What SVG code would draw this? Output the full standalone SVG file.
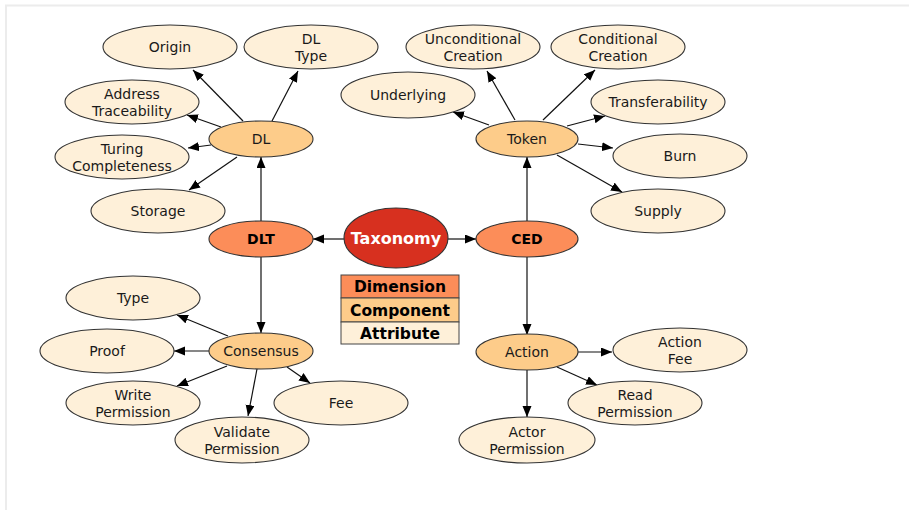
<svg xmlns="http://www.w3.org/2000/svg" width="909" height="510" viewBox="0 0 909 510">
<defs>
<marker id="ah" markerUnits="userSpaceOnUse" markerWidth="12" markerHeight="10" refX="11" refY="4.5" orient="auto">
<path d="M0,0 L11,4.5 L0,9 z" fill="#000"/>
</marker>
<style>
.e line{stroke:#111;stroke-width:1.2;marker-end:url(#ah)}
ellipse{stroke:#333;stroke-width:1.1}
.attr ellipse{fill:#fef0d9}
.comp ellipse{fill:#fdcc8a}
.dim ellipse{fill:#fc8d59}
text{font-family:"DejaVu Sans","Liberation Sans",sans-serif;font-size:14px;text-anchor:middle;fill:#1a1a1a}
.b{font-weight:bold;fill:#000}
.w{font-weight:bold;fill:#fff;font-size:16px}
.lg{font-weight:bold;fill:#000;font-size:15.5px}
</style>
</defs>
<rect width="909" height="510" fill="#fff"/>
<line x1="5" y1="5.5" x2="909" y2="5.5" stroke="#ececec" stroke-width="2"/>
<line x1="6" y1="5" x2="6" y2="510" stroke="#ececec" stroke-width="2"/>
<g class="e" id="connectors">
<line x1="344" y1="239" x2="313" y2="239"/>
<line x1="448" y1="239" x2="476" y2="239"/>
<line x1="261" y1="221" x2="261" y2="157"/>
<line x1="527" y1="221" x2="527" y2="157"/>
<line x1="261" y1="257" x2="261" y2="333"/>
<line x1="527" y1="257" x2="527" y2="335"/>
<line x1="243" y1="121" x2="193" y2="70"/>
<line x1="272" y1="121" x2="298" y2="71"/>
<line x1="221" y1="127" x2="187" y2="115"/>
<line x1="211" y1="145" x2="188" y2="148"/>
<line x1="237" y1="157" x2="189" y2="190"/>
<line x1="489" y1="125" x2="453" y2="112"/>
<line x1="515" y1="120" x2="487" y2="71"/>
<line x1="543" y1="120" x2="595" y2="70"/>
<line x1="567" y1="126" x2="605" y2="116"/>
<line x1="578" y1="144" x2="613" y2="148"/>
<line x1="557" y1="155" x2="622" y2="192"/>
<line x1="228" y1="336" x2="177" y2="315"/>
<line x1="209" y1="351" x2="174" y2="351"/>
<line x1="227" y1="366" x2="177" y2="386"/>
<line x1="257" y1="369" x2="248" y2="416"/>
<line x1="287" y1="367" x2="310" y2="383"/>
<line x1="578" y1="352" x2="612" y2="352"/>
<line x1="557" y1="367" x2="597" y2="385"/>
<line x1="527" y1="370" x2="527" y2="417"/>
</g>
<g id="taxonomy"><ellipse cx="396" cy="238" rx="52" ry="30" fill="#d7301f"/><text class="w" x="396" y="244">Taxonomy</text></g>
<g id="dlt" class="dim"><ellipse cx="261" cy="239" rx="52" ry="18"/><text class="b" x="261" y="244">DLT</text></g>
<g id="ced" class="dim"><ellipse cx="527" cy="239" rx="51" ry="18"/><text class="b" x="527" y="244">CED</text></g>
<g id="dl" class="comp"><ellipse cx="261" cy="139" rx="52" ry="18"/><text x="261" y="144">DL</text></g>
<g id="token" class="comp"><ellipse cx="527" cy="139" rx="51" ry="18"/><text x="527" y="144">Token</text></g>
<g id="consensus" class="comp"><ellipse cx="261" cy="351" rx="52" ry="18"/><text x="261" y="356">Consensus</text></g>
<g id="action" class="comp"><ellipse cx="527" cy="352" rx="51" ry="18"/><text x="527" y="357">Action</text></g>
<g id="origin" class="attr"><ellipse cx="170" cy="47" rx="67" ry="22"/><text x="170" y="52">Origin</text></g>
<g id="dltype" class="attr"><ellipse cx="311" cy="47" rx="67" ry="22"/><text x="311" y="44">DL</text><text x="311" y="61">Type</text></g>
<g id="address" class="attr"><ellipse cx="132" cy="102" rx="67" ry="22"/><text x="132" y="99">Address</text><text x="132" y="116">Traceability</text></g>
<g id="turing" class="attr"><ellipse cx="122" cy="157" rx="67" ry="22"/><text x="122" y="154">Turing</text><text x="122" y="171">Completeness</text></g>
<g id="storage" class="attr"><ellipse cx="158" cy="211" rx="67" ry="22"/><text x="158" y="216">Storage</text></g>
<g id="uncond" class="attr"><ellipse cx="473" cy="47" rx="67" ry="22"/><text x="473" y="44">Unconditional</text><text x="473" y="61">Creation</text></g>
<g id="cond" class="attr"><ellipse cx="618" cy="47" rx="67" ry="22"/><text x="618" y="44">Conditional</text><text x="618" y="61">Creation</text></g>
<g id="underlying" class="attr"><ellipse cx="408" cy="95" rx="67" ry="23"/><text x="408" y="100">Underlying</text></g>
<g id="transfer" class="attr"><ellipse cx="658" cy="102" rx="67" ry="22"/><text x="658" y="107">Transferability</text></g>
<g id="burn" class="attr"><ellipse cx="680" cy="156" rx="67" ry="22"/><text x="680" y="161">Burn</text></g>
<g id="supply" class="attr"><ellipse cx="658" cy="211" rx="67" ry="22"/><text x="658" y="216">Supply</text></g>
<g id="type" class="attr"><ellipse cx="133" cy="298" rx="67" ry="22"/><text x="133" y="303">Type</text></g>
<g id="proof" class="attr"><ellipse cx="107" cy="351" rx="67" ry="22"/><text x="107" y="356">Proof</text></g>
<g id="write" class="attr"><ellipse cx="133" cy="403" rx="67" ry="22"/><text x="133" y="400">Write</text><text x="133" y="417">Permission</text></g>
<g id="validate" class="attr"><ellipse cx="242" cy="440" rx="67" ry="23"/><text x="242" y="437">Validate</text><text x="242" y="454">Permission</text></g>
<g id="fee" class="attr"><ellipse cx="341" cy="403" rx="67" ry="22"/><text x="341" y="408">Fee</text></g>
<g id="actionfee" class="attr"><ellipse cx="680" cy="350" rx="67" ry="22"/><text x="680" y="347">Action</text><text x="680" y="364">Fee</text></g>
<g id="read" class="attr"><ellipse cx="635" cy="403" rx="67" ry="22"/><text x="635" y="400">Read</text><text x="635" y="417">Permission</text></g>
<g id="actor" class="attr"><ellipse cx="527" cy="440" rx="68" ry="23"/><text x="527" y="437">Actor</text><text x="527" y="454">Permission</text></g>
<g id="legend">
<rect x="341" y="275" width="118" height="23" fill="#fc8d59" stroke="#444"/>
<rect x="341" y="298" width="118" height="24" fill="#fdcc8a" stroke="#444"/>
<rect x="341" y="322" width="118" height="22" fill="#fef0d9" stroke="#444"/>
<text class="lg" x="400" y="292">Dimension</text>
<text class="lg" x="400" y="316">Component</text>
<text class="lg" x="400" y="339">Attribute</text>
</g>
</svg>
